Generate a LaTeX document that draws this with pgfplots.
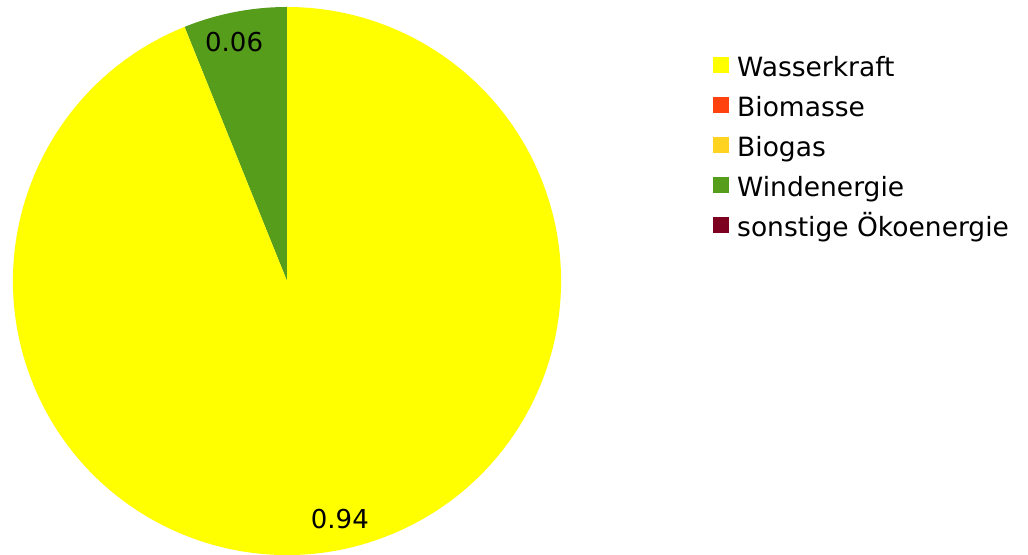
\documentclass[border=0pt]{standalone}
\usepackage{fontspec}
\setmainfont{DejaVu Sans}
\usepackage{pgfplots}
\pgfplotsset{compat=1.18}
\definecolor{cWasser}{HTML}{FFFF00}
\definecolor{cBiomasse}{HTML}{FF420E}
\definecolor{cBiogas}{HTML}{FFD320}
\definecolor{cWind}{HTML}{579D1C}
\definecolor{cSonst}{HTML}{7E0021}
% shares (fractions of the whole)
\def\vWasser{0.939}
\def\vWind{0.061}
\begin{document}
\begin{tikzpicture}
\useasboundingbox (0,0) rectangle (1028bp,555bp);
\begin{axis}[
  at={(13bp,0bp)}, anchor=south west,
  scale only axis, width=548bp, height=548bp,
  xmin=-1, xmax=1, ymin=-1, ymax=1,
  hide axis, clip=false,
  legend cell align=left,
  legend image code/.code={\fill[#1,draw=none] (0bp,-6bp) rectangle (16bp,10bp);},
  legend style={draw=none, fill=none, inner sep=0pt,
    at={(1.2774,0.9088)}, anchor=north west,
    row sep=20.5bp,
    nodes={inner sep=0pt, text height=19bp, text depth=0pt},
    /tikz/every odd column/.append style={column sep=8bp},
    font=\fontsize{26.5bp}{31bp}\selectfont},
]
\pgfmathsetmacro{\aWind}{90+360*\vWind}
\pgfmathsetmacro{\aEnd}{\aWind+360*\vWasser}
% Windenergie slice
\fill[cWind] (axis cs:0,0) -- (axis cs:0,1) arc[start angle=90, end angle=\aWind, radius=274bp] -- cycle;
% Wasserkraft slice
\fill[cWasser] (axis cs:0,0) -- (axis cs:{cos(\aWind)},{sin(\aWind)}) arc[start angle=\aWind, end angle=\aEnd, radius=274bp] -- cycle;
\addlegendimage{fill=cWasser}\addlegendentry{Wasserkraft}
\addlegendimage{fill=cBiomasse}\addlegendentry{Biomasse}
\addlegendimage{fill=cBiogas}\addlegendentry{Biogas}
\addlegendimage{fill=cWind}\addlegendentry{Windenergie}
\addlegendimage{fill=cSonst}\addlegendentry{sonstige Ökoenergie}
\node[font=\fontsize{26bp}{31bp}\selectfont, inner sep=0pt] at (axis cs:-0.193,0.872) {0.06};
\node[font=\fontsize{26bp}{31bp}\selectfont, inner sep=0pt] at (axis cs:0.193,-0.867) {0.94};
\end{axis}
\end{tikzpicture}
\end{document}
